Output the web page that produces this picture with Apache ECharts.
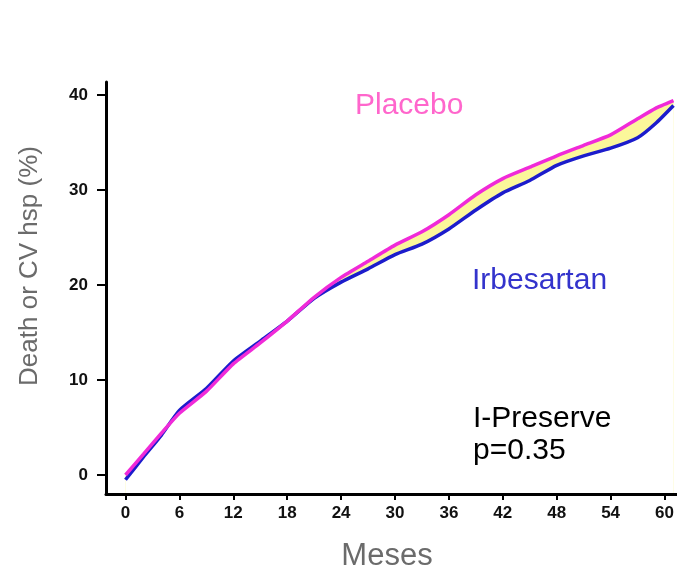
<!DOCTYPE html>
<html>
<head>
<meta charset="utf-8">
<title>I-Preserve</title>
<script src="https://cdn.jsdelivr.net/npm/echarts@6.0.0/dist/echarts.min.js"></script>
<style>
    html, body { margin: 0; padding: 0; background: #fff; }
    #chart { width: 677px; height: 569px; }
</style>
</head>
<body>
<div id="chart"></div>
<script>
// 数据
var months = [0, 2, 4, 6, 9, 12, 15, 18, 21, 24, 27, 30, 33, 36, 39, 42, 45, 48, 51, 54, 57, 59, 61];
var placebo = [0.0, 2.2, 4.4, 6.5, 8.8, 11.7, 13.9, 16.2, 18.7, 20.8, 22.5, 24.2, 25.6, 27.4, 29.5, 31.2, 32.4, 33.6, 34.7, 35.8, 37.5, 38.6, 39.4];
var irbesartan = [-0.5, 1.9, 4.2, 6.8, 9.1, 12.0, 14.1, 16.2, 18.6, 20.3, 21.7, 23.2, 24.3, 25.9, 27.9, 29.7, 31.0, 32.6, 33.6, 34.4, 35.5, 37.0, 38.9];
var xTicks = [0, 6, 12, 18, 24, 30, 36, 42, 48, 54, 60];
var yTicks = [0, 10, 20, 30, 40];

function pairs(ys) {
    return months.map(function (m, i) { return [m, ys[i]]; });
}

function label(text, x, y, color, size) {
    return {
        type: 'text',
        x: x,
        y: y,
        z: 100,
        style: {
            text: text,
            fill: color,
            fontSize: size,
            fontFamily: 'Liberation Sans',
            verticalAlign: 'middle'
        }
    };
}

function chartRender() {
    var chart = echarts.init(document.getElementById('chart'));

    var tickLabel = {
        color: '#111',
        fontSize: 17,
        fontWeight: 'bold',
        fontFamily: 'Liberation Sans'
    };

    var option = {
        backgroundColor: '#fff',
        animation: false,
        grid: {
            left: 106,
            right: 0,
            top: 82,
            bottom: 75
        },
        xAxis: {
            type: 'value',
            z: 10,
            min: -2.17,
            max: 61.39,
            splitLine: { show: false },
            axisLine: { onZero: false, lineStyle: { color: '#000', width: 3 } },
            axisTick: { customValues: xTicks, length: 6, lineStyle: { color: '#000', width: 2 } },
            axisLabel: Object.assign({ customValues: xTicks, margin: 11 }, tickLabel)
        },
        yAxis: {
            type: 'value',
            z: 10,
            min: -2,
            max: 41.37,
            splitLine: { show: false },
            axisLine: { onZero: false, lineStyle: { color: '#000', width: 3 } },
            axisTick: { customValues: yTicks, length: 9, lineStyle: { color: '#000', width: 2 } },
            axisLabel: Object.assign({ customValues: yTicks, margin: 18 }, tickLabel)
        },
        graphic: [
            { //纵坐标标题
                type: 'text',
                x: 30,
                y: 266,
                z: 100,
                rotation: Math.PI / 2,
                style: {
                    text: 'Death or CV hsp (%)',
                    fill: '#6b6b6b',
                    fontSize: 26,
                    fontFamily: 'Liberation Sans',
                    align: 'center',
                    verticalAlign: 'middle'
                }
            },
            { //横坐标标题
                type: 'text',
                x: 387,
                y: 556,
                z: 100,
                style: {
                    text: 'Meses',
                    fill: '#6b6b6b',
                    fontSize: 31,
                    fontFamily: 'Liberation Sans',
                    align: 'center',
                    verticalAlign: 'middle'
                }
            },
            label('Placebo', 355, 106, '#ff66cc', 30),
            label('Irbesartan', 472, 281, '#3333cc', 30),
            label('I-Preserve', 473, 419, '#000', 30),
            label('p=0.35', 473, 451, '#000', 30)
        ],
        series: [
            { // 黄色区域: 先铺到安慰剂曲线
                name: 'bandTop',
                type: 'line',
                data: pairs(placebo),
                symbol: 'none',
                smooth: 0.2,
                silent: true,
                lineStyle: { opacity: 0 },
                areaStyle: { color: '#fbf79a', opacity: 1, origin: 'start' }
            },
            { // 白色遮住厄贝沙坦曲线以下部分
                name: 'bandBottom',
                type: 'line',
                data: pairs(irbesartan),
                symbol: 'none',
                smooth: 0.2,
                silent: true,
                lineStyle: { opacity: 0 },
                areaStyle: { color: '#fff', opacity: 1, origin: 'start' }
            },
            {
                name: 'Irbesartan',
                type: 'line',
                data: pairs(irbesartan),
                symbol: 'none',
                smooth: 0.2,
                lineStyle: { color: '#1c1ccc', width: 3.5 }
            },
            {
                name: 'Placebo',
                type: 'line',
                data: pairs(placebo),
                symbol: 'none',
                smooth: 0.2,
                lineStyle: { color: '#f02ad8', width: 3.5 }
            }
        ]
    };

    chart.setOption(option);
}

chartRender();
</script>
</body>
</html>
